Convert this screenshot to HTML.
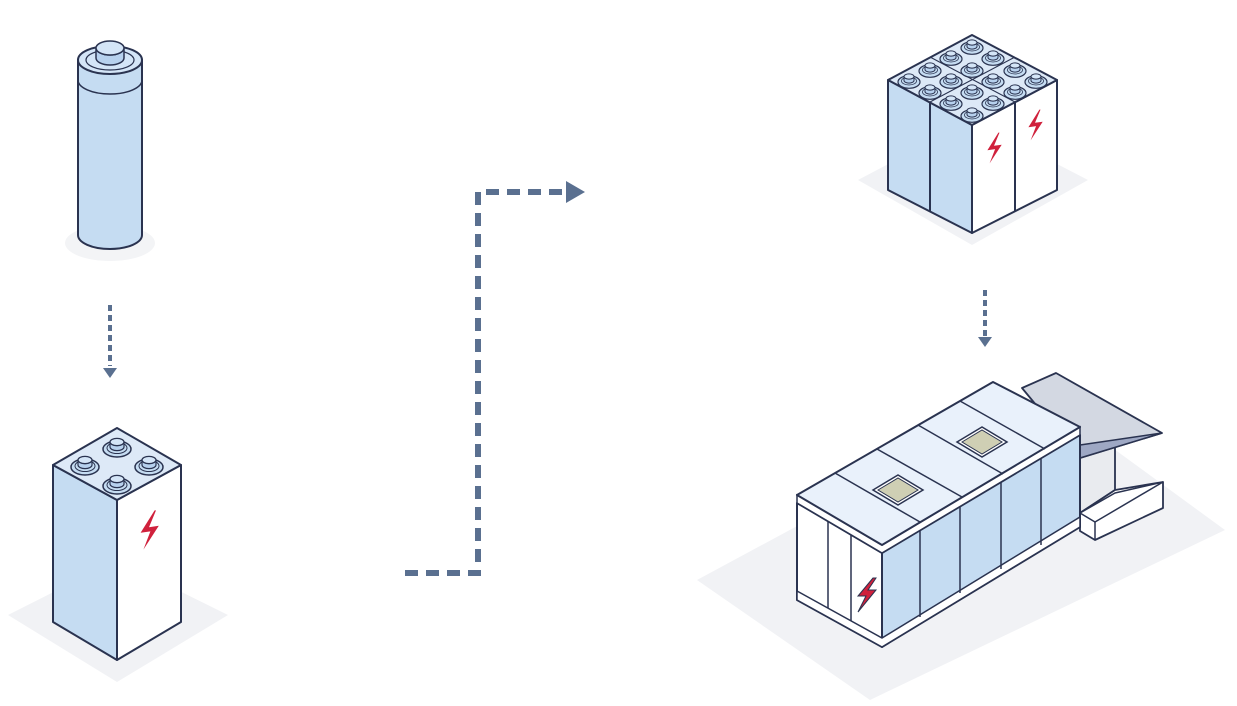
<!DOCTYPE html>
<html><head><meta charset="utf-8"><style>html,body{margin:0;padding:0;background:#fff}svg{display:block}</style></head>
<body>
<svg width="1237" height="706" viewBox="0 0 1237 706" xmlns="http://www.w3.org/2000/svg">
<defs>
<g id="stud"><ellipse cx="0" cy="0" rx="14" ry="8" fill="#c5dcf2" stroke="#2a3350" stroke-width="1.5"/><ellipse cx="0" cy="-1" rx="10" ry="5.5" fill="none" stroke="#2a3350" stroke-width="1"/><path d="M-7,-2 v-5 a7,3.6 0 0 0 14,0 v5 a7,3.6 0 0 1 -14,0z" fill="#b7d1ee" stroke="#2a3350" stroke-width="1.2"/><ellipse cx="0" cy="-7" rx="7" ry="3.6" fill="#d4e5f7" stroke="#2a3350" stroke-width="1.2"/></g>
<g id="studs"><ellipse cx="0" cy="0" rx="11" ry="6.3" fill="#c5dcf2" stroke="#2a3350" stroke-width="1.2"/><ellipse cx="0" cy="-1" rx="7.5" ry="4" fill="none" stroke="#2a3350" stroke-width="0.8"/><path d="M-5,-1.5 v-4 a5,2.6 0 0 0 10,0 v4 a5,2.6 0 0 1 -10,0z" fill="#b7d1ee" stroke="#2a3350" stroke-width="1"/><ellipse cx="0" cy="-5.5" rx="5" ry="2.6" fill="#d4e5f7" stroke="#2a3350" stroke-width="1"/></g>
<path id="bolt" d="M4,-14 L-6,2 L1,1 L-4,14 L7,-3 L0,-2 L5,-14z" fill="#d0213c"/>
</defs>

<ellipse cx="110" cy="243" rx="45" ry="18" fill="#f3f4f6"/>
<polygon points="8,615 117,560 228,615 117,682" fill="#f1f2f5"/>
<polygon points="858,180 972,120 1088,180 972,245" fill="#f1f2f5"/>
<polygon points="697,580 1040,395 1225,530 870,700" fill="#f1f2f5"/>

<path d="M78,60 L78,235 A32,14 0 0 0 142,235 L142,60z" fill="#c5dcf2" stroke="#2a3350" stroke-width="2"/>
<ellipse cx="110" cy="60" rx="32" ry="14" fill="#d4e5f7" stroke="#2a3350" stroke-width="2"/>
<path d="M78,80 A32,14 0 0 0 142,80" fill="none" stroke="#2a3350" stroke-width="1.5"/>
<ellipse cx="110" cy="60" rx="24" ry="10" fill="none" stroke="#2a3350" stroke-width="1.2"/>
<path d="M96,58 V48 A14,7 0 0 0 124,48 V58 A14,7 0 0 1 96,58z" fill="#b7d1ee" stroke="#2a3350" stroke-width="1.5"/>
<ellipse cx="110" cy="48" rx="14" ry="7" fill="#d4e5f7" stroke="#2a3350" stroke-width="1.5"/>

<line x1="110" y1="305" x2="110" y2="366" stroke="#5a7090" stroke-width="4" stroke-dasharray="6,4"/>
<polygon points="103,368 117,368 110,378" fill="#5a7090"/>

<polygon points="53,465 117,500 117,660 53,622" fill="#c5dcf2" stroke="#2a3350" stroke-width="2" stroke-linejoin="round"/>
<polygon points="117,500 181,465 181,622 117,660" fill="#fff" stroke="#2a3350" stroke-width="2" stroke-linejoin="round"/>
<polygon points="117,428 53,465 117,500 181,465" fill="#dde9f7" stroke="#2a3350" stroke-width="2" stroke-linejoin="round"/>
<use href="#stud" x="117" y="449"/><use href="#stud" x="149" y="467"/><use href="#stud" x="85" y="467"/><use href="#stud" x="117" y="486"/>
<path d="M4,-14 L-6,2 L1,1 L-4,14 L7,-3 L0,-2 L5,-14z" fill="#d0213c" transform="translate(149,530) scale(1.4)"/>

<polyline points="405,573 478,573 478,192 568,192" fill="none" stroke="#5a7090" stroke-width="6" stroke-dasharray="13,8"/>
<polygon points="566,181 585,192 566,203" fill="#5a7090"/>

<polygon points="888,80 972,125 972,233 888,190" fill="#c5dcf2" stroke="#2a3350" stroke-width="2" stroke-linejoin="round"/>
<polygon points="972,125 1057,80 1057,190 972,233" fill="#fff" stroke="#2a3350" stroke-width="2" stroke-linejoin="round"/>
<line x1="930" y1="102" x2="930" y2="211" stroke="#2a3350" stroke-width="2"/>
<line x1="1015" y1="102" x2="1015" y2="211" stroke="#2a3350" stroke-width="2"/>
<polygon points="972,35 888,80 972,125 1057,80" fill="#dde9f7" stroke="#2a3350" stroke-width="2" stroke-linejoin="round"/>
<line x1="930" y1="57" x2="1015" y2="102" stroke="#2a3350" stroke-width="1"/>
<line x1="1015" y1="57" x2="930" y2="102" stroke="#2a3350" stroke-width="1"/>
<use href="#studs" x="972" y="48"/><use href="#studs" x="993" y="59"/><use href="#studs" x="1015" y="71"/><use href="#studs" x="1036" y="82"/>
<use href="#studs" x="951" y="59"/><use href="#studs" x="972" y="71"/><use href="#studs" x="993" y="82"/><use href="#studs" x="1015" y="93"/>
<use href="#studs" x="930" y="71"/><use href="#studs" x="951" y="82"/><use href="#studs" x="972" y="93"/><use href="#studs" x="993" y="104"/>
<use href="#studs" x="909" y="82"/><use href="#studs" x="930" y="93"/><use href="#studs" x="951" y="104"/><use href="#studs" x="972" y="116"/>
<path d="M4,-14 L-6,2 L1,1 L-4,14 L7,-3 L0,-2 L5,-14z" fill="#d0213c" transform="translate(994,148) scale(1.1)"/>
<path d="M4,-14 L-6,2 L1,1 L-4,14 L7,-3 L0,-2 L5,-14z" fill="#d0213c" transform="translate(1035,125) scale(1.1)"/>

<line x1="985" y1="290" x2="985" y2="336" stroke="#5a7090" stroke-width="4" stroke-dasharray="6,4"/>
<polygon points="978,337 992,337 985,347" fill="#5a7090"/>

<!-- annex -->
<polygon points="1080,445 1115,432 1115,490 1080,513" fill="#e9ebef" stroke="#2a3350" stroke-width="1.8"/>
<polygon points="1080,513 1115,490 1163,482 1163,508 1095,540 1080,531" fill="#fff" stroke="#2a3350" stroke-width="1.8" stroke-linejoin="round"/>
<polygon points="1080,513 1115,493 1163,482 1095,522" fill="#fff" stroke="#2a3350" stroke-width="1.5" stroke-linejoin="round"/>
<line x1="1095" y1="522" x2="1095" y2="540" stroke="#2a3350" stroke-width="1.5"/>
<polygon points="1022,388 1056,373 1162,433 1080,458" fill="#d3d8e2" stroke="#2a3350" stroke-width="1.8" stroke-linejoin="round"/>
<polygon points="1080,445 1162,433 1080,458" fill="#9ea8c4" stroke="#2a3350" stroke-width="1.5"/>

<polygon points="797,503 882,553 882,647 797,600" fill="#fff" stroke="#2a3350" stroke-width="2" stroke-linejoin="round"/>
<polygon points="882,553 1080,435 1080,527 882,647" fill="#c5dcf2" stroke="#2a3350" stroke-width="2" stroke-linejoin="round"/>
<polygon points="797,600 882,647 1080,527 1080,517 882,638 797,591" fill="#fff" stroke="#2a3350" stroke-width="1.5"/>
<line x1="828" y1="521" x2="828" y2="608" stroke="#2a3350" stroke-width="1.5"/>
<line x1="851" y1="535" x2="851" y2="621" stroke="#2a3350" stroke-width="1.5"/>
<line x1="920" y1="530" x2="920" y2="617" stroke="#2a3350" stroke-width="1.5"/>
<line x1="960" y1="506" x2="960" y2="593" stroke="#2a3350" stroke-width="1.5"/>
<line x1="1001" y1="482" x2="1001" y2="569" stroke="#2a3350" stroke-width="1.5"/>
<line x1="1041" y1="458" x2="1041" y2="545" stroke="#2a3350" stroke-width="1.5"/>
<polygon points="797,503 882,553 1080,435 1080,427 882,545 797,495" fill="#fff" stroke="#2a3350" stroke-width="1.5"/>
<polygon points="797,495 993,382 1080,427 882,545" fill="#e9f1fb" stroke="#2a3350" stroke-width="2" stroke-linejoin="round"/>
<line x1="835" y1="473" x2="920" y2="522" stroke="#2a3350" stroke-width="1.5"/>
<line x1="877" y1="449" x2="962" y2="497" stroke="#2a3350" stroke-width="1.5"/>
<line x1="918" y1="425" x2="1003" y2="474" stroke="#2a3350" stroke-width="1.5"/>
<line x1="960" y1="401" x2="1045" y2="449" stroke="#2a3350" stroke-width="1.5"/>
<polygon points="873,490 898,475 923,490 898,505" fill="#fff" stroke="#2a3350" stroke-width="1.5"/>
<polygon points="878,490 898,478 918,490 898,502" fill="#cfcfb4" stroke="#2a3350" stroke-width="1"/>
<polygon points="957,442 982,427 1007,442 982,457" fill="#fff" stroke="#2a3350" stroke-width="1.5"/>
<polygon points="962,442 982,430 1002,442 982,454" fill="#cfcfb4" stroke="#2a3350" stroke-width="1"/>
<path d="M873,578 L858,596 L866,596 L858,612 L876,590 L868,590 L876,578z" fill="#d0213c" stroke="#2a3350" stroke-width="1"/>
</svg>
</body></html>
